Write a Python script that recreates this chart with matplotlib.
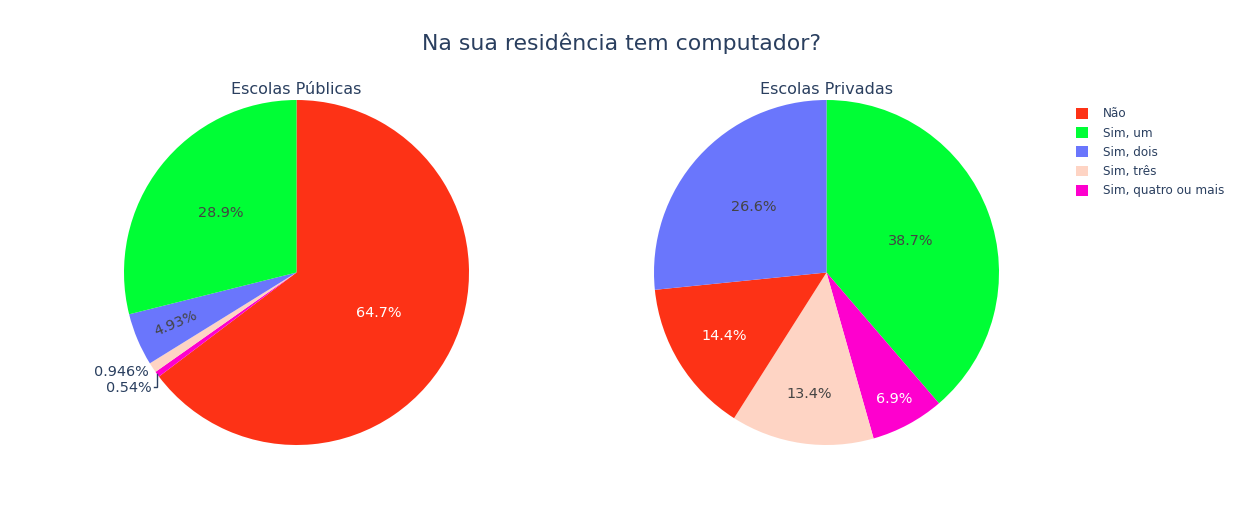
import matplotlib
matplotlib.use('Agg')
import matplotlib.pyplot as plt
from matplotlib.patches import Patch
import numpy as np

# ---- data ----
categories = ['Não', 'Sim, um', 'Sim, dois', 'Sim, três', 'Sim, quatro ou mais']
publicas = [64.7, 28.9, 4.93, 0.946, 0.54]
privadas = [14.4, 38.7, 26.6, 13.4, 6.9]
title = 'Na sua residência tem computador?'
subtitles = ['Escolas Públicas', 'Escolas Privadas']

# ---- style ----
colors = ['#FD3216', '#00FE35', '#6A76FC', '#FED4C4', '#FE00CE']
light_text = [True, False, False, False, True]   # white text on dark slices
order_pub = [0, 4, 3, 2, 1]       # clockwise order from 12 o'clock
order_priv = [1, 4, 3, 0, 2]
text_r_pub = {0: 0.53, 1: 0.56, 2: 0.76}
rotate_pub = {2}
outside_pub = {3: 'plain', 4: 'leader'}
text_r_priv = {0: 0.70, 1: 0.52, 2: 0.57, 3: 0.71, 4: 0.83}
TXT = '#2a3f5f'
FS = 10.4

W, H = 1244, 525
fig = plt.figure(figsize=(W / 100, H / 100), dpi=100)
fig.patch.set_facecolor('white')

R = 172.5
centers = [(296.5, 272.5), (826.5, 272.5)]


def fmt(v):
    return f'{v:.3g}%'


def draw_pie(cx, cy, values, order, text_r, rotate=set(), outside={}):
    ax = fig.add_axes([(cx - R) / W, (H - cy - R) / H, 2 * R / W, 2 * R / H])
    vals = [values[i] for i in order]
    cols = [colors[i] for i in order]
    wedges, _ = ax.pie(vals, colors=cols, startangle=90, counterclock=False,
                       radius=1, wedgeprops=dict(linewidth=0))
    ax.set_xlim(-1, 1)
    ax.set_ylim(-1, 1)
    ax.set_aspect('equal')
    ax.axis('off')
    for w, i in zip(wedges, order):
        mid = np.deg2rad((w.theta1 + w.theta2) / 2)
        ex, ey = np.cos(mid), np.sin(mid)
        label = fmt(values[i])
        if i in outside:
            if outside[i] == 'plain':
                ax.text(ex - 0.025, ey - 0.028, label, ha='right', va='center',
                        fontsize=FS, color=TXT, clip_on=False)
            else:
                yb = ey - 0.075
                ax.plot([ex, ex, ex - 0.018], [ey, yb, yb], color=TXT, lw=1,
                        clip_on=False, solid_joinstyle='miter')
                ax.text(ex - 0.03, yb - 0.005, label, ha='right', va='center',
                        fontsize=FS, color=TXT, clip_on=False)
            continue
        r = text_r[i]
        rot = 0
        if i in rotate:
            rot = np.rad2deg(mid) % 180
            if rot > 90:
                rot -= 180
        ax.text(r * ex, r * ey, label, ha='center', va='center', fontsize=FS,
                rotation=rot, rotation_mode='anchor',
                color='white' if light_text[i] else '#444444')
    return ax


draw_pie(*centers[0], publicas, order_pub, text_r_pub, rotate_pub, outside_pub)
draw_pie(*centers[1], privadas, order_priv, text_r_priv)

for (cx, cy), st in zip(centers, subtitles):
    fig.text(cx / W, 1 - 89 / H, st, ha='center', va='center', fontsize=11.5, color=TXT)

fig.text(622 / W, 1 - 43 / H, title, ha='center', va='center', fontsize=15.8, color=TXT)

handles = [Patch(facecolor=c, edgecolor='none') for c in colors]
fig.legend(handles, categories, loc='upper left',
           bbox_to_anchor=(1076 / W, 1 - 107.5 / H), frameon=False,
           fontsize=8.64, handlelength=1.0, handleheight=1.0,
           handletextpad=1.25, labelspacing=0.52, borderpad=0,
           borderaxespad=0, labelcolor=TXT)

fig.savefig('out.png', dpi=100, facecolor='white')
